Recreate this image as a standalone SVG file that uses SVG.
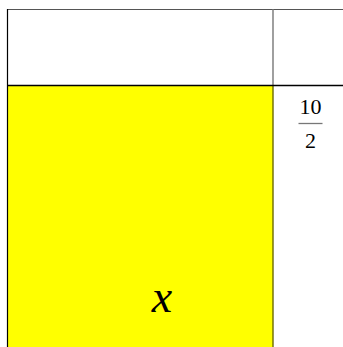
<svg xmlns="http://www.w3.org/2000/svg" width="343" height="347" viewBox="0 0 343 347">
<style>
text{font-family:'Liberation Serif','DejaVu Serif',serif;fill:#000}
</style>
<rect width="343" height="347" fill="#fff"/>
<g id="cell-yellow">
<rect x="7.5" y="85.5" width="265.5" height="262" fill="#ffff00"/>
<text x="162" y="312" font-family="Liberation Serif, serif" font-size="46" font-style="italic" text-anchor="middle">x</text>
</g>
<g id="grid" fill="none">
<line x1="7" y1="9.5" x2="343" y2="9.5" stroke="#555" stroke-width="1.2"/>
<line x1="7.5" y1="9" x2="7.5" y2="347" stroke="#000" stroke-width="1.2"/>
<line x1="273" y1="9" x2="273" y2="85" stroke="#777" stroke-width="1.4"/>
<line x1="273" y1="85" x2="273" y2="347" stroke="#6b6b00" stroke-width="1.4"/>
<line x1="7" y1="85.5" x2="343" y2="85.5" stroke="#000" stroke-width="1.6"/>
</g>
<g id="fraction">
<text x="310.5" y="114" font-family="Liberation Serif, serif" font-size="22" text-anchor="middle">10</text>
<line x1="298.5" y1="123.5" x2="322.5" y2="123.5" stroke="#777" stroke-width="1.3"/>
<text x="310.5" y="148" font-family="Liberation Serif, serif" font-size="22" text-anchor="middle">2</text>
</g>
</svg>
